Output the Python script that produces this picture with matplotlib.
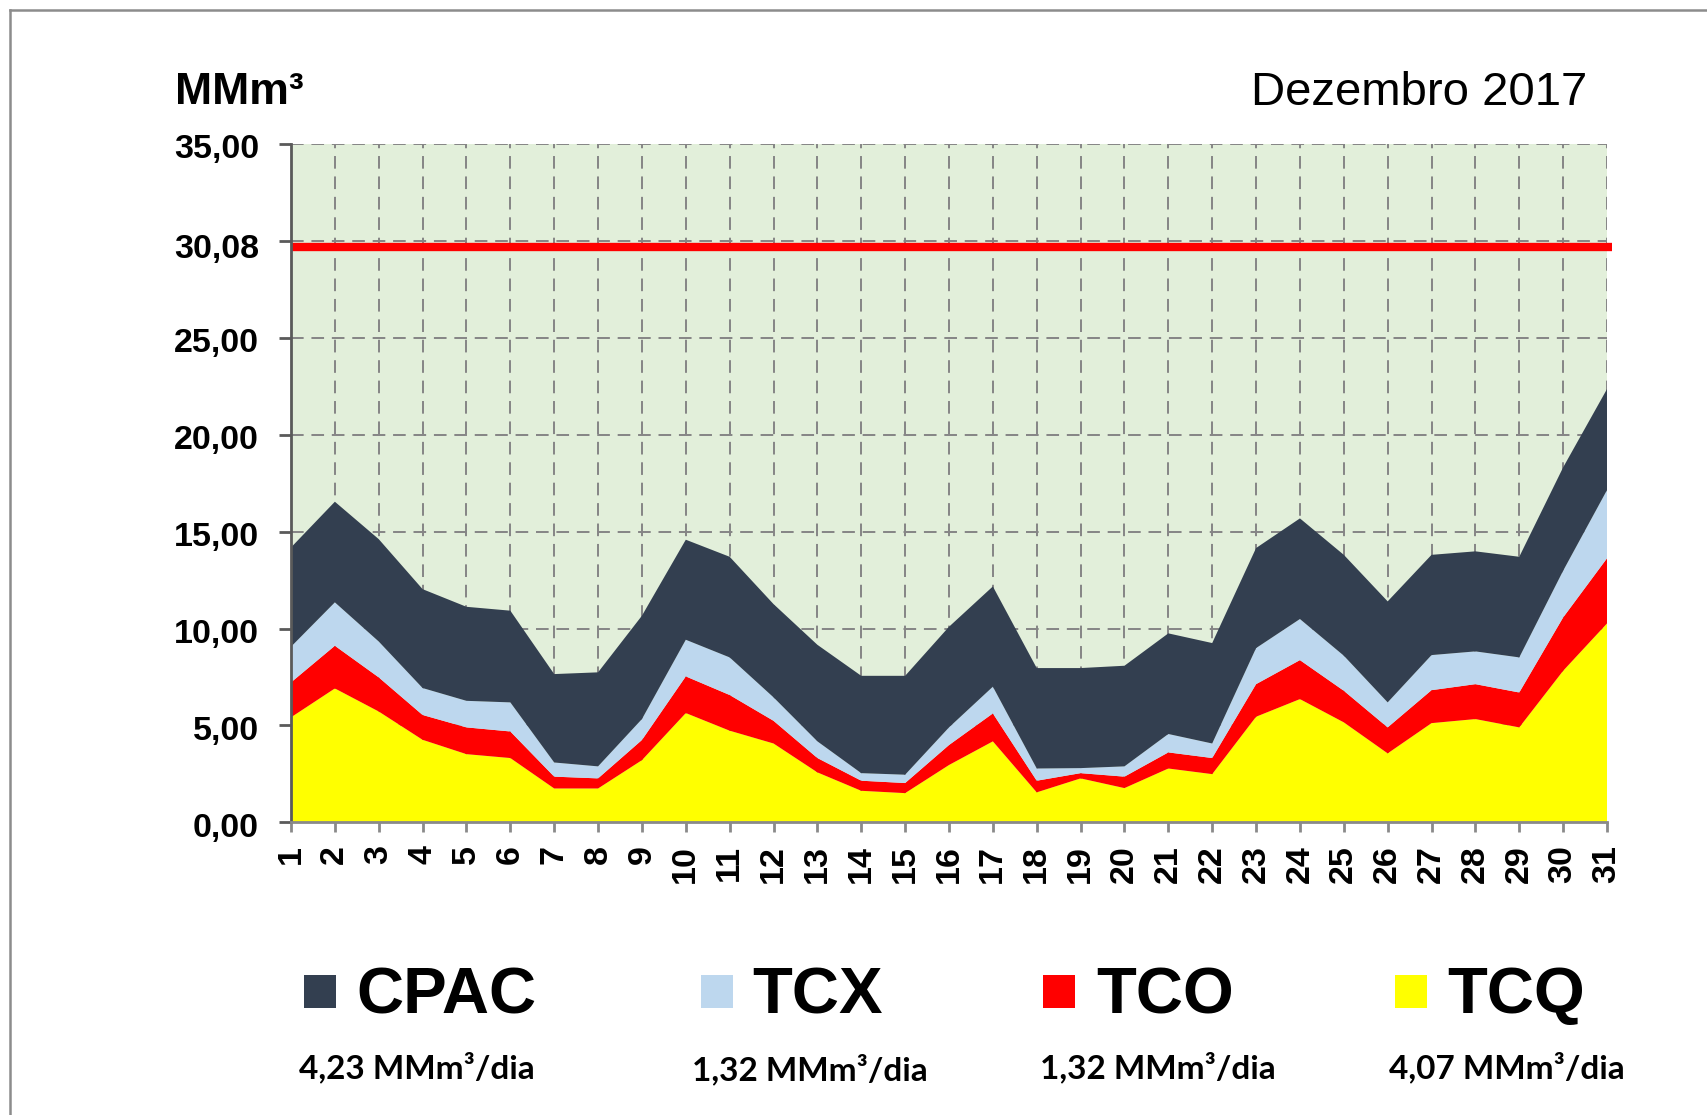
import matplotlib
matplotlib.use("Agg")
import matplotlib.pyplot as plt
from matplotlib.lines import Line2D
from matplotlib.patches import Rectangle
from matplotlib.transforms import ScaledTranslation

plt.rcParams['font.family'] = ['Liberation Sans', 'DejaVu Sans']

# ---------------- data ----------------
days = list(range(1, 32))
tcq = [5.42, 6.91, 5.72, 4.26, 3.52, 3.32, 1.75, 1.75, 3.21, 5.64,
       4.73, 4.07, 2.58, 1.63, 1.51, 2.96, 4.18, 1.55, 2.27, 1.77,
       2.78, 2.49, 5.45, 6.36, 5.16, 3.56, 5.12, 5.33, 4.90, 7.82, 10.26]
tco = [1.80, 2.20, 1.76, 1.28, 1.38, 1.37, 0.61, 0.52, 1.04, 1.89,
       1.84, 1.17, 0.74, 0.52, 0.52, 1.03, 1.44, 0.60, 0.27, 0.59,
       0.83, 0.83, 1.68, 2.01, 1.63, 1.34, 1.70, 1.80, 1.80, 2.75, 3.36]
tcx = [1.84, 2.24, 1.85, 1.39, 1.37, 1.50, 0.73, 0.62, 1.08, 1.89,
       1.94, 1.21, 0.86, 0.39, 0.43, 0.91, 1.38, 0.63, 0.26, 0.53,
       0.95, 0.75, 1.86, 2.12, 1.81, 1.29, 1.81, 1.69, 1.81, 2.41, 3.52]
cpac = [5.12, 5.19, 5.28, 5.10, 4.85, 4.73, 4.56, 4.85, 5.33, 5.16,
        5.19, 4.81, 4.98, 5.02, 5.10, 5.19, 5.17, 5.18, 5.16, 5.19,
        5.19, 5.18, 5.16, 5.19, 5.20, 5.21, 5.17, 5.16, 5.19, 5.33, 5.21]
limit_value = 29.7

series_names = ['CPAC', 'TCX', 'TCO', 'TCQ']
series_colors = ['#333F50', '#BDD7EE', '#FF0000', '#FFFF00']
series_rates = ['4,23 MMm³/dia', '1,32 MMm³/dia', '1,32 MMm³/dia', '4,07 MMm³/dia']

y_ticks = [0, 5, 10, 15, 20, 25, 30, 35]
y_tick_labels = ['0,00', '5,00', '10,00', '15,00', '20,00', '25,00', '30,08', '35,00']

# ---------------- figure ----------------
W, H = 1708, 1115
fig = plt.figure(figsize=(W / 100, H / 100), dpi=100)
fig.patch.set_facecolor('white')

ax = fig.add_axes([291 / W, 1 - 822.4 / H, (1607 - 291) / W, (822.4 - 143.8) / H])
ax.set_facecolor('#E2EFDA')

ax.stackplot(days, tcq, tco, tcx, cpac,
             colors=[series_colors[3], series_colors[2], series_colors[1], series_colors[0]],
             linewidth=0, zorder=2)

ax.hlines(limit_value, 1, 31.12, colors='#FF0000', linewidth=6, zorder=4, clip_on=False)

ax.set_xlim(1, 31)
ax.set_ylim(0, 35)
ax.set_xticks(days)
ax.set_xticklabels([str(d) for d in days], rotation=90, fontsize=24.5, fontweight='bold')
ax.set_yticks(y_ticks)
ax.set_yticklabels(y_tick_labels, fontsize=24.5, fontweight='bold')

ax.grid(True, color='#858585', linestyle=(0, (6.5, 4)), linewidth=1.4, zorder=1)
ax.set_axisbelow(True)

for s in ['top', 'right']:
    ax.spines[s].set_visible(False)
ax.spines['left'].set_color('#5a5a5a')
ax.spines['left'].set_linewidth(2)
ax.spines['bottom'].set_color('#8a8a8a')
ax.spines['bottom'].set_linewidth(2)
ax.spines['left'].set_zorder(5)
ax.spines['bottom'].set_zorder(5)

ax.tick_params(axis='y', direction='out', length=9, width=2, color='#5a5a5a', pad=14)
ax.tick_params(axis='x', direction='out', length=7.5, width=2, color='#8a8a8a', pad=9)

# small downward offsets of the y labels (as in the reference)
for lab, t in zip(ax.get_yticklabels(), y_tick_labels):
    dy = -5 if t == '30,08' else -2.5
    lab.set_transform(lab.get_transform() + ScaledTranslation(0, dy / 100, fig.dpi_scale_trans))

# titles
fig.text(175 / W, 1 - 104 / H, 'MMm³', fontsize=32, fontweight='bold', ha='left', va='baseline')
fig.text(1587 / W, 1 - 105 / H, 'Dezembro 2017', fontsize=34, ha='right', va='baseline')

# legend (manual)
sq_left = [304, 701, 1043, 1395]
txt_left = [356, 752, 1096, 1447]
sub_center = [417, 810, 1158, 1507]
sub_base = [1078, 1080, 1078, 1078]
for i in range(4):
    fig.add_artist(Rectangle((sq_left[i] / W, 1 - 1008 / H), 32 / W, 33 / H,
                             transform=fig.transFigure, facecolor=series_colors[i],
                             edgecolor='none'))
    fig.text(txt_left[i] / W, 1 - 1013 / H, series_names[i], fontsize=47,
             fontweight='bold', ha='left', va='baseline')
    fig.text(sub_center[i] / W, 1 - sub_base[i] / H, series_rates[i], fontsize=24,
             fontweight='bold', ha='center', va='baseline', family=['Lato', 'DejaVu Sans'])

# outer frame (left and top edges)
fig.add_artist(Line2D([10 / W, 10 / W], [0, 1 - 10 / H], transform=fig.transFigure,
                      color='#8c8c8c', linewidth=1.8))
fig.add_artist(Line2D([10 / W, 1], [1 - 10 / H, 1 - 10 / H], transform=fig.transFigure,
                      color='#8c8c8c', linewidth=1.8))

fig.savefig('out.png', dpi=100)
